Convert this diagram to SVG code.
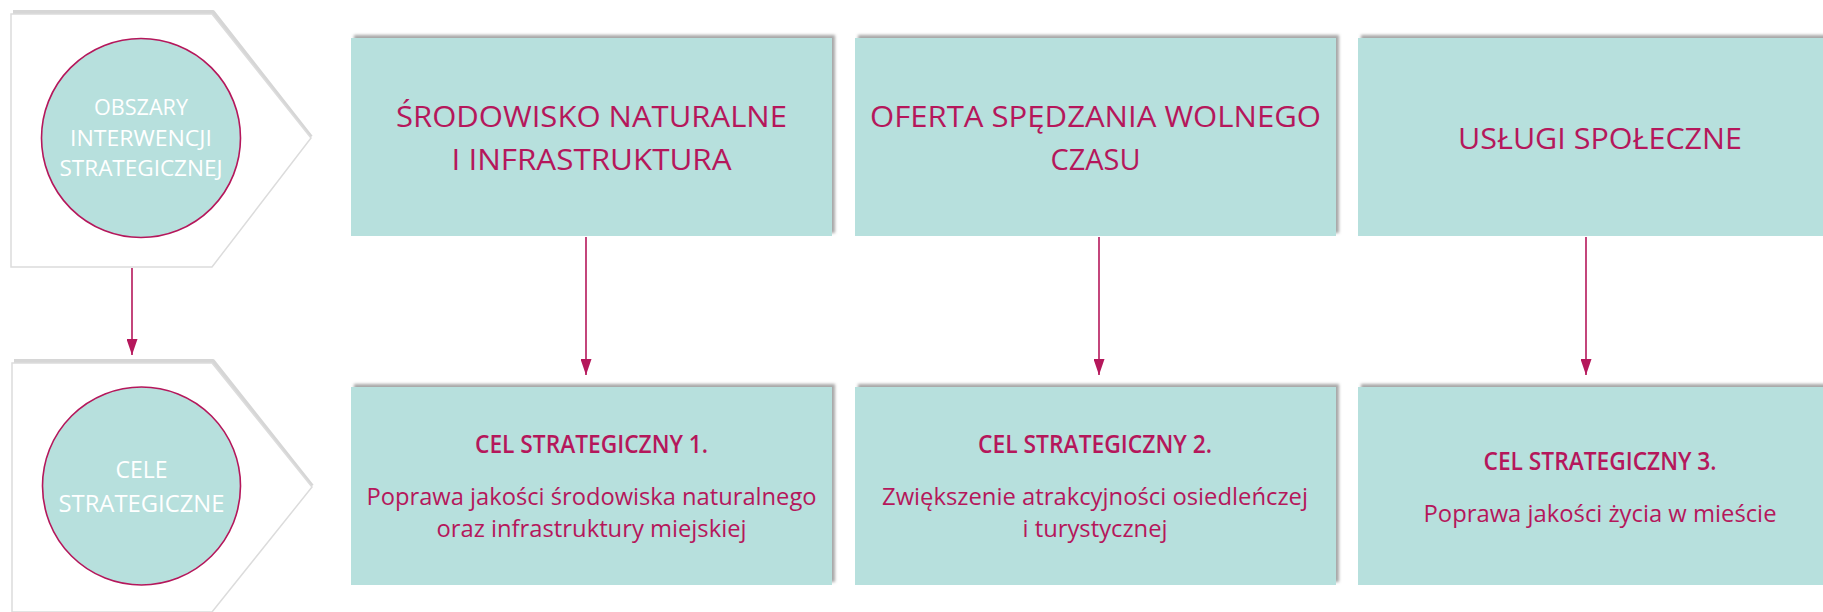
<svg xmlns="http://www.w3.org/2000/svg" width="1823" height="612" viewBox="0 0 1823 612">
<style>
.box{fill:#b7e0dd;filter:url(#sh);}
.circ{fill:#b7e0dd;stroke:#b5175b;stroke-width:1.6;}
.pent{fill:#ffffff;stroke:#dcdcdc;stroke-width:1.5;}
.pshadow{fill:none;stroke:#d6d6d6;stroke-width:4;stroke-linejoin:round;}
.ct{font-family:"Open Sans","Noto Sans",sans-serif;fill:#ffffff;text-anchor:middle;}
.hd{font-family:"Open Sans","Noto Sans",sans-serif;fill:#b5175b;font-size:29px;text-anchor:middle;}
.cel{font-family:"Open Sans","Noto Sans",sans-serif;fill:#b5175b;font-size:25px;font-weight:600;text-anchor:middle;}
.ds{font-family:"Open Sans","Noto Sans",sans-serif;fill:#b5175b;font-size:24px;text-anchor:middle;}
.conn{stroke:#b5175b;stroke-width:1.6;fill:none;marker-end:url(#ah);}
</style>
<defs>
<filter id="sh" x="-5%" y="-10%" width="110%" height="120%">
<feDropShadow dx="3" dy="-3" stdDeviation="1.8" flood-color="#808080" flood-opacity="0.7"/>
</filter>
<marker id="ah" markerUnits="userSpaceOnUse" markerWidth="16" markerHeight="11" refX="16" refY="5.5" orient="auto">
<path d="M0,0 L16,5.5 L0,11 z" fill="#b5175b"/>
</marker>
</defs>
<rect width="1823" height="612" fill="#ffffff"/>

<g id="obszary">
<polyline class="pshadow" points="13,12 213,12 311,137"/>
<polygon class="pent" points="11,14 212,14 311,138 212,267 11,267"/>
<circle class="circ" cx="141" cy="138" r="99.5"/>
<text class="ct" font-size="21" x="141" y="115" textLength="94" lengthAdjust="spacingAndGlyphs">OBSZARY</text>
<text class="ct" font-size="21" x="141" y="146" textLength="142" lengthAdjust="spacingAndGlyphs">INTERWENCJI</text>
<text class="ct" font-size="21" x="141" y="176" textLength="163" lengthAdjust="spacingAndGlyphs">STRATEGICZNEJ</text>
</g>

<g id="cele">
<polyline class="pshadow" points="14,361 213,361 312,486"/>
<polygon class="pent" points="12,363 212,363 312,487 212,612 12,612"/>
<circle class="circ" cx="141.5" cy="486" r="99"/>
<text class="ct" font-size="24" x="141.5" y="478" textLength="52" lengthAdjust="spacingAndGlyphs">CELE</text>
<text class="ct" font-size="24" x="141.5" y="512" textLength="166" lengthAdjust="spacingAndGlyphs">STRATEGICZNE</text>
</g>

<g id="obszar1">
<rect class="box" x="351" y="38" width="481" height="198"/>
<text class="hd" x="591.5" y="127" textLength="391" lengthAdjust="spacingAndGlyphs">ŚRODOWISKO NATURALNE</text>
<text class="hd" x="591.5" y="170" textLength="280" lengthAdjust="spacingAndGlyphs">I INFRASTRUKTURA</text>
</g>
<g id="obszar2">
<rect class="box" x="855" y="38" width="481" height="198"/>
<text class="hd" x="1095.5" y="127" textLength="451" lengthAdjust="spacingAndGlyphs">OFERTA SPĘDZANIA WOLNEGO</text>
<text class="hd" x="1095.5" y="170" textLength="90" lengthAdjust="spacingAndGlyphs">CZASU</text>
</g>
<g id="obszar3">
<rect class="box" x="1358" y="38" width="484" height="198"/>
<text class="hd" x="1600" y="149" textLength="284" lengthAdjust="spacingAndGlyphs">USŁUGI SPOŁECZNE</text>
</g>

<g id="cel1">
<rect class="box" x="351" y="387" width="481" height="198"/>
<text class="cel" x="591.5" y="453" textLength="233" lengthAdjust="spacingAndGlyphs">CEL STRATEGICZNY 1.</text>
<text class="ds" x="591.5" y="505" textLength="450" lengthAdjust="spacingAndGlyphs">Poprawa jakości środowiska naturalnego</text>
<text class="ds" x="591.5" y="537" textLength="310" lengthAdjust="spacingAndGlyphs">oraz infrastruktury miejskiej</text>
</g>
<g id="cel2">
<rect class="box" x="855" y="387" width="481" height="198"/>
<text class="cel" x="1095" y="453" textLength="234" lengthAdjust="spacingAndGlyphs">CEL STRATEGICZNY 2.</text>
<text class="ds" x="1095" y="505" textLength="426" lengthAdjust="spacingAndGlyphs">Zwiększenie atrakcyjności osiedleńczej</text>
<text class="ds" x="1095" y="537" textLength="145" lengthAdjust="spacingAndGlyphs">i turystycznej</text>
</g>
<g id="cel3">
<rect class="box" x="1358" y="387" width="484" height="198"/>
<text class="cel" x="1600" y="470" textLength="233" lengthAdjust="spacingAndGlyphs">CEL STRATEGICZNY 3.</text>
<text class="ds" x="1600" y="522" textLength="353" lengthAdjust="spacingAndGlyphs">Poprawa jakości życia w mieście</text>
</g>

<g id="connectors">
<line class="conn" x1="132" y1="268" x2="132" y2="355"/>
<line class="conn" x1="586" y1="237" x2="586" y2="375"/>
<line class="conn" x1="1099" y1="237" x2="1099" y2="375"/>
<line class="conn" x1="1586" y1="237" x2="1586" y2="375"/>
</g>
</svg>
